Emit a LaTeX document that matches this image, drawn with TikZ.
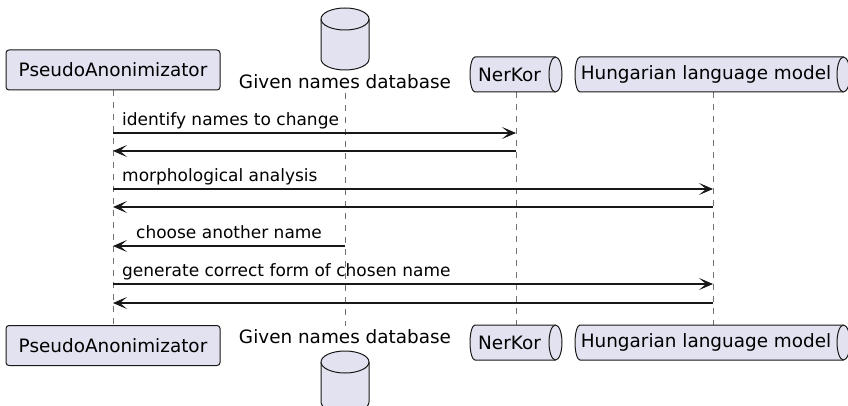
\documentclass[tikz,border=0pt]{standalone}
\usepackage{fontspec}
\setmainfont{DejaVu Sans}
\usetikzlibrary{arrows.meta}
\definecolor{partfill}{HTML}{E2E2F0}
\definecolor{partline}{HTML}{181818}
\tikzset{
  pbox/.style={draw=partline, fill=partfill, line width=1pt, rounded corners=3pt,
    minimum width=214pt, minimum height=40pt, inner sep=0pt,
    font=\fontsize{18.4}{22}\selectfont},
  ptext/.style={inner sep=0pt, font=\fontsize{18.4}{22}\selectfont},
  shapeline/.style={draw=partline, fill=partfill, line width=1pt},
  lifeline/.style={draw=black!55, line width=0.8pt, dash pattern=on 6pt off 6pt},
  msg/.style={draw=partline, line width=1.1pt, -{Stealth[length=14pt,width=12pt,inset=7pt]}},
  msglabel/.style={inner sep=0pt, anchor=base west, font=\fontsize{17}{20}\selectfont},
}
\newcommand{\dbcyl}[2]{% center x, top ellipse center y
  \path[shapeline] (#1-24,#2) -- (#1-24,#2+40) arc[start angle=180, end angle=360, x radius=24pt, y radius=11pt]
    -- (#1+24,#2) arc[start angle=0, end angle=180, x radius=24pt, y radius=11pt] -- cycle;
  \draw[partline, line width=1pt] (#1-24,#2) arc[start angle=180, end angle=360, x radius=24pt, y radius=11pt];
}
\newcommand{\queueshape}[3]{% left x, right ellipse center x, top y (height 35)
  \path[shapeline] (#1+5,#3) -- (#2,#3) arc[start angle=90, end angle=-90, x radius=6.5pt, y radius=17.5pt]
    -- (#1+5,#3+35) arc[start angle=270, end angle=90, x radius=5pt, y radius=17.5pt] -- cycle;
  \draw[partline, line width=1pt] (#2,#3) arc[start angle=90, end angle=270, x radius=6.5pt, y radius=17.5pt];
}
\begin{document}
\begin{tikzpicture}[x=1pt, y=-1pt]
\useasboundingbox (0,0) rectangle (848,406);
\clip (0,0) rectangle (848,406);

% lifeline coordinates
\coordinate (paT) at (113,90);   \coordinate (paB) at (113,325);
\coordinate (dbT) at (345,93);   \coordinate (dbB) at (345,326);
\coordinate (nkT) at (516,92);   \coordinate (nkB) at (516,325);
\coordinate (hmT) at (713,92);   \coordinate (hmB) at (713,325);

\draw[lifeline] (paT) -- (paB);
\draw[lifeline] (dbT) -- (dbB);
\draw[lifeline] (nkT) -- (nkB);
\draw[lifeline] (hmT) -- (hmB);

% top participants
\node[pbox] (paTop) at (113,70) {PseudoAnonimizator};
\dbcyl{345}{19}
\node[ptext] (dbTop) at (345,82) {Given names database};
\queueshape{470}{555.5}{57}
\node[ptext] (nkTop) at (509.5,74.5) {NerKor};
\queueshape{575}{843.5}{57}
\node[ptext] (hmTop) at (706,74.5) {Hungarian language model};

% bottom participants
\node[pbox] (paBot) at (113,345.5) {PseudoAnonimizator};
\node[ptext] (dbBot) at (345,337) {Given names database};
\dbcyl{345}{362}
\queueshape{470}{555.5}{325}
\node[ptext] (nkBot) at (509.5,342.5) {NerKor};
\queueshape{575}{843.5}{325}
\node[ptext] (hmBot) at (706,342.5) {Hungarian language model};

% messages
\coordinate (m1a) at (113,133); \coordinate (m1b) at (516,133);
\draw[msg] (m1a) -- (m1b);
\node[msglabel] (l1) at (122,125.5) {identify names to change};
\coordinate (m2a) at (516,151); \coordinate (m2b) at (113,151);
\draw[msg] (m2a) -- (m2b);

\coordinate (m3a) at (113,189); \coordinate (m3b) at (713,189);
\draw[msg] (m3a) -- (m3b);
\node[msglabel] (l3) at (122,181.5) {morphological analysis};
\coordinate (m4a) at (713,207); \coordinate (m4b) at (113,207);
\draw[msg] (m4a) -- (m4b);

\coordinate (m5a) at (345,246); \coordinate (m5b) at (113,246);
\draw[msg] (m5a) -- (m5b);
\node[msglabel] (l5) at (136,238.5) {choose another name};

\coordinate (m6a) at (113,284); \coordinate (m6b) at (713,284);
\draw[msg] (m6a) -- (m6b);
\node[msglabel] (l6) at (122,276.5) {generate correct form of chosen name};
\coordinate (m7a) at (713,303); \coordinate (m7b) at (113,303);
\draw[msg] (m7a) -- (m7b);
\end{tikzpicture}
\end{document}
